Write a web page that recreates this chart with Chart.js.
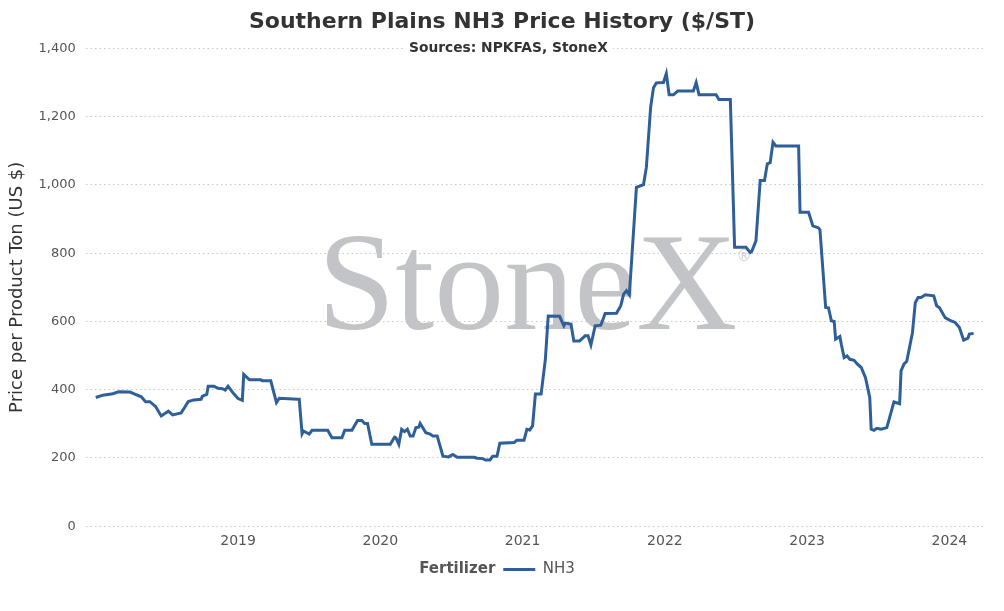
<!DOCTYPE html>
<html>
<head>
<meta charset="utf-8">
<title>Southern Plains NH3 Price History</title>
<script src="https://cdn.jsdelivr.net/npm/chart.js@4.4.1/dist/chart.umd.min.js"></script>
<style>
    html, body { margin: 0; padding: 0; background: #fff; }
    #wrap { width: 1004px; height: 611px; }
</style>
</head>
<body>
<div id="wrap"><canvas id="chartNh3"></canvas></div>
<script>
// weekly observations, x as decimal year
const dates = [
    2018.00, 2018.05, 2018.12, 2018.16, 2018.24, 2018.27, 2018.32, 2018.35, 2018.38, 2018.42,
    2018.46, 2018.51, 2018.54, 2018.60, 2018.62, 2018.65, 2018.69, 2018.74, 2018.75, 2018.78,
    2018.79, 2018.83, 2018.86, 2018.89, 2018.91, 2018.93, 2018.97, 2019.00, 2019.03, 2019.04,
    2019.08, 2019.16, 2019.17, 2019.23, 2019.27, 2019.29, 2019.42, 2019.43, 2019.45, 2019.46,
    2019.50, 2019.52, 2019.63, 2019.66, 2019.73, 2019.75, 2019.80, 2019.84, 2019.87, 2019.89,
    2019.91, 2019.94, 2020.07, 2020.10, 2020.11, 2020.13, 2020.15, 2020.17, 2020.19, 2020.21,
    2020.23, 2020.25, 2020.27, 2020.28, 2020.32, 2020.35, 2020.37, 2020.40, 2020.44, 2020.48,
    2020.51, 2020.54, 2020.66, 2020.68, 2020.72, 2020.74, 2020.77, 2020.79, 2020.82, 2020.84,
    2020.94, 2020.96, 2021.01, 2021.03, 2021.05, 2021.07, 2021.09, 2021.13, 2021.16, 2021.18,
    2021.26, 2021.29, 2021.30, 2021.34, 2021.36, 2021.40, 2021.44, 2021.46, 2021.48, 2021.51,
    2021.55, 2021.58, 2021.66, 2021.69, 2021.71, 2021.73, 2021.75, 2021.76, 2021.80, 2021.85,
    2021.87, 2021.90, 2021.92, 2021.94, 2021.99, 2022.01, 2022.03, 2022.06, 2022.09, 2022.20,
    2022.22, 2022.24, 2022.36, 2022.38, 2022.46, 2022.49, 2022.57, 2022.60, 2022.61, 2022.64,
    2022.65, 2022.67, 2022.70, 2022.72, 2022.74, 2022.76, 2022.78, 2022.94, 2022.95, 2023.01,
    2023.04, 2023.08, 2023.09, 2023.13, 2023.15, 2023.17, 2023.19, 2023.20, 2023.23, 2023.24,
    2023.26, 2023.28, 2023.30, 2023.33, 2023.35, 2023.38, 2023.41, 2023.44, 2023.45, 2023.47,
    2023.49, 2023.52, 2023.56, 2023.61, 2023.65, 2023.66, 2023.68, 2023.70, 2023.74, 2023.76,
    2023.78, 2023.80, 2023.83, 2023.89, 2023.91, 2023.93, 2023.97, 2024.00, 2024.04, 2024.07,
    2024.10, 2024.13, 2024.14, 2024.17
];

const nh3Price = [
    377, 384, 388, 394, 393, 388, 379, 365, 365, 351,
    323, 337, 326, 332, 345, 365, 370, 372, 381, 386,
    410, 410, 404, 403, 399, 410, 388, 374, 369, 445,
    429, 429, 426, 426, 362, 375, 372, 372, 271, 279,
    270, 281, 281, 259, 259, 281, 281, 310, 310, 301,
    301, 240, 240, 261, 259, 240, 284, 277, 284, 264,
    264, 289, 290, 301, 274, 270, 264, 264, 205, 203,
    210, 202, 202, 199, 198, 194, 194, 205, 205, 243,
    245, 252, 252, 284, 282, 294, 387, 387, 489, 616,
    615, 587, 595, 592, 543, 543, 558, 558, 531, 587,
    589, 623, 624, 646, 680, 690, 678, 739, 993, 1001,
    1052, 1228, 1285, 1299, 1300, 1326, 1264, 1264, 1275, 1275,
    1300, 1264, 1264, 1250, 1250, 817, 817, 802, 805, 836,
    895, 1013, 1013, 1062, 1065, 1125, 1114, 1114, 920, 920,
    880, 874, 868, 641, 640, 602, 600, 548, 556, 533,
    494, 499, 489, 486, 476, 465, 435, 377, 284, 281,
    287, 284, 289, 364, 359, 455, 475, 483, 567, 655,
    670, 670, 678, 675, 646, 640, 611, 604, 597, 582,
    545, 551, 563, 565
];

const yearTicks = [2019, 2020, 2021, 2022, 2023, 2024];

const FONT = 'DejaVu Sans, Verdana, sans-serif';
const LINE_COLOR = '#2f5f98';

// big grey "StoneX" mark in the middle of the plot
const watermark = {
    id: 'watermark',
    beforeDatasetsDraw(chart) {
        const { ctx, chartArea: a } = chart;
        ctx.save();
        ctx.font = '140px "Liberation Serif", "Times New Roman", serif';
        const w = ctx.measureText('StoneX').width;
        const x0 = (a.left + a.right) / 2 - w / 2 - 8;
        const base = (a.top + a.bottom) / 2 + 42;
        ctx.fillStyle = '#c3c4c7';
        ctx.textBaseline = 'alphabetic';
        ctx.textAlign = 'left';
        ctx.fillText('StoneX', x0, base);
        ctx.font = '15px ' + FONT;
        ctx.fillStyle = '#d0d0d3';
        ctx.fillText('\u00AE', x0 + w - 1, base - 68);
        ctx.restore();
    },
};

// title over the whole canvas; legend group "Fertilizer — NH3" centred as a whole
const legendGroup = {
    id: 'legendGroup',
    afterLayout(chart) {
        const tb = chart.titleBlock;
        if (tb) {
            tb.left = 0;
            tb.right = chart.width;
            tb.width = chart.width;
        }
        const lg = chart.legend;
        if (!lg) return;
        chart.ctx.save();
        chart.ctx.font = 'bold 15px ' + FONT;
        const w = chart.ctx.measureText('Fertilizer').width;
        chart.ctx.restore();
        const shift = (w + 8) / 2 - 5;
        lg.left = shift;
        lg.right = chart.width + shift;
        lg.width = chart.width;
    },
    afterDraw(chart) {
        const { ctx, chartArea: a } = chart;
        ctx.save();
        // subtitle sits on the top grid line
        ctx.font = 'bold 13.8px ' + FONT;
        const sub = 'Sources: NPKFAS, StoneX';
        const sw = ctx.measureText(sub).width;
        const cx = (a.left + a.right) / 2 - 27;
        ctx.fillStyle = '#fff';
        ctx.fillRect(cx - sw / 2 - 5, a.top - 8, sw + 10, 16);
        ctx.fillStyle = '#333';
        ctx.textAlign = 'center';
        ctx.textBaseline = 'middle';
        ctx.fillText(sub, cx, a.top);

        const lg = chart.legend;
        const hb = lg && lg.legendHitBoxes && lg.legendHitBoxes[0];
        if (hb) {
            ctx.font = 'bold 15px ' + FONT;
            ctx.fillStyle = '#555';
            ctx.textAlign = 'right';
            ctx.fillText('Fertilizer', hb.left - 8, hb.top + hb.height / 2);
        }
        ctx.restore();
    },
};

const ctx = document.getElementById('chartNh3').getContext('2d');

new Chart(ctx, {
    type: 'line',
    data: {
        datasets: [{
            label: 'NH3',
            data: dates.map((d, i) => ({ x: d, y: nh3Price[i] })),
            borderColor: LINE_COLOR,
            backgroundColor: LINE_COLOR,
            borderWidth: 3,
            pointRadius: 0,
            pointHoverRadius: 4,
            tension: 0,
            fill: false,
        }],
    },
    options: {
        responsive: true,
        maintainAspectRatio: false,
        animation: false,
        layout: { padding: { left: 5, right: 19, top: 0, bottom: 24 } },
        interaction: { intersect: false, mode: 'nearest', axis: 'x' },
        scales: {
            x: {
                type: 'linear',
                min: 2017.93,
                max: 2024.25,
                afterBuildTicks: (axis) => {
                    axis.ticks = yearTicks.map(v => ({ value: v }));
                },
                ticks: {
                    color: '#555',
                    font: { family: FONT, size: 14 },
                    padding: 7,
                    maxRotation: 0,
                    autoSkip: false,
                    callback: (v) => String(v),
                },
                grid: { display: false, drawTicks: false },
                border: { display: false },
            },
            y: {
                min: 0,
                max: 1400,
                ticks: {
                    stepSize: 200,
                    color: '#555',
                    font: { family: FONT, size: 13 },
                    padding: 10,
                    callback: (v) => v.toLocaleString('en-US'),
                },
                grid: { color: '#c8c8c8', lineWidth: 1, drawTicks: false },
                border: { display: false, dash: [1.5, 3] },
                title: {
                    display: true,
                    text: 'Price per Product Ton (US $)',
                    color: '#333',
                    font: { family: FONT, size: 18 },
                    padding: { top: 2, bottom: 0 },
                },
            },
        },
        plugins: {
            title: {
                display: true,
                text: 'Southern Plains NH3 Price History ($/ST)',
                color: '#333',
                font: { family: FONT, size: 22, weight: 'bold' },
                padding: { top: 9, bottom: 13 },
            },
            legend: {
                position: 'bottom',
                labels: {
                    color: '#555',
                    font: { family: FONT, size: 15 },
                    usePointStyle: true,
                    pointStyle: 'line',
                    pointStyleWidth: 32,
                    padding: 5,
                },
            },
            tooltip: { enabled: true },
        },
    },
    plugins: [watermark, legendGroup],
});
</script>
</body>
</html>
